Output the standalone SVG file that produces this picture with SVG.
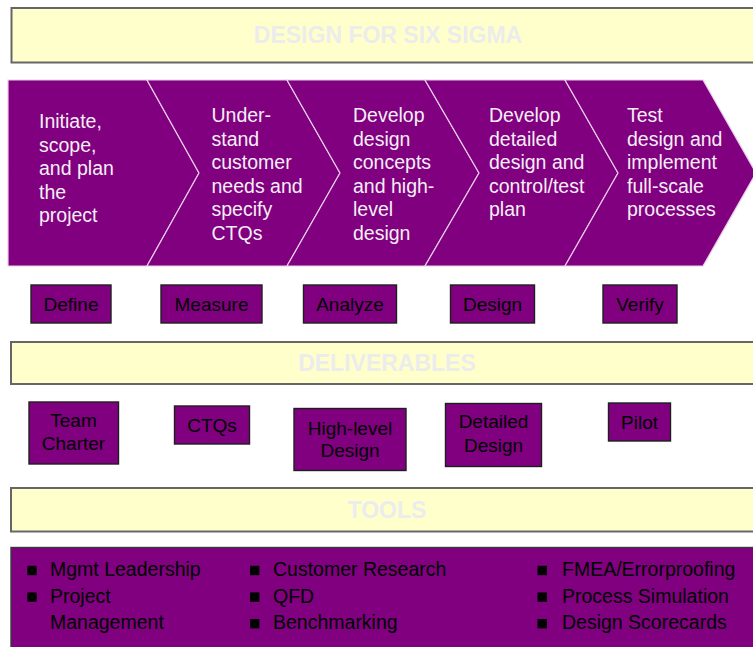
<svg xmlns="http://www.w3.org/2000/svg" width="753" height="647" viewBox="0 0 753 647">
<style>
.banner{fill:#ffffcc;stroke:#666666;stroke-width:2}
.btxt{font-family:"Liberation Sans",Arial,sans-serif;font-weight:bold;font-size:23px;fill:#ececec;text-anchor:middle}
.chev{fill:#800080;stroke:#e8cde8;stroke-width:1.2}
.ctxt{font-family:"Liberation Sans",Arial,sans-serif;font-size:19.5px;fill:#f6eef6}
.box{fill:#800080;stroke:#1e1e1e;stroke-width:1.4}
.ltxt{font-family:"Liberation Sans",Arial,sans-serif;font-size:19px;fill:#000;text-anchor:middle}
.ttxt{font-family:"Liberation Sans",Arial,sans-serif;font-size:19.5px;fill:#000}
.bul{fill:#000}
</style>
<rect width="753" height="647" fill="#ffffff"/>

<g id="banner-dfss">
<rect class="banner" x="11.5" y="8" width="750" height="54.5"/>
<text class="btxt" x="388" y="43">DESIGN FOR SIX SIGMA</text>
</g>

<g id="chevron-define">
<path class="chev" d="M8,80 L147,80 L199,173 L147,266 L8,266 Z"/>
<text class="ctxt"><tspan x="39" y="128">Initiate,</tspan><tspan x="39" y="151.5">scope,</tspan><tspan x="39" y="175">and plan</tspan><tspan x="39" y="198.5">the</tspan><tspan x="39" y="222">project</tspan></text>
</g>
<g id="chevron-measure">
<path class="chev" d="M147,80 L287,80 L340,173 L287,266 L147,266 L199,173 Z"/>
<text class="ctxt"><tspan x="211.5" y="122">Under-</tspan><tspan x="211.5" y="145.5">stand</tspan><tspan x="211.5" y="169">customer</tspan><tspan x="211.5" y="192.5">needs and</tspan><tspan x="211.5" y="216">specify</tspan><tspan x="211.5" y="239.5">CTQs</tspan></text>
</g>
<g id="chevron-analyze">
<path class="chev" d="M287,80 L425,80 L479,173 L425,266 L287,266 L340,173 Z"/>
<text class="ctxt"><tspan x="353" y="122">Develop</tspan><tspan x="353" y="145.5">design</tspan><tspan x="353" y="169">concepts</tspan><tspan x="353" y="192.5">and high-</tspan><tspan x="353" y="216">level</tspan><tspan x="353" y="239.5">design</tspan></text>
</g>
<g id="chevron-design">
<path class="chev" d="M425,80 L565,80 L618,173 L565,266 L425,266 L479,173 Z"/>
<text class="ctxt"><tspan x="489" y="122">Develop</tspan><tspan x="489" y="145.5">detailed</tspan><tspan x="489" y="169">design and</tspan><tspan x="489" y="192.5">control/test</tspan><tspan x="489" y="216">plan</tspan></text>
</g>
<g id="chevron-verify">
<path class="chev" d="M565,80 L703,80 L756,173 L703,266 L565,266 L618,173 Z"/>
<text class="ctxt"><tspan x="627" y="122">Test</tspan><tspan x="627" y="145.5">design and</tspan><tspan x="627" y="169">implement</tspan><tspan x="627" y="192.5">full-scale</tspan><tspan x="627" y="216">processes</tspan></text>
</g>

<g id="phase-define"><rect class="box" x="31" y="285" width="80" height="38"/><text class="ltxt" x="71" y="311">Define</text></g>
<g id="phase-measure"><rect class="box" x="161" y="285" width="101" height="38"/><text class="ltxt" x="211.5" y="311">Measure</text></g>
<g id="phase-analyze"><rect class="box" x="303.5" y="285" width="93" height="38"/><text class="ltxt" x="350" y="311">Analyze</text></g>
<g id="phase-design"><rect class="box" x="450.5" y="285" width="84" height="38"/><text class="ltxt" x="492.5" y="311">Design</text></g>
<g id="phase-verify"><rect class="box" x="603" y="285" width="74" height="38"/><text class="ltxt" x="640" y="311">Verify</text></g>

<g id="banner-deliverables">
<rect class="banner" x="11" y="342" width="750" height="42"/>
<text class="btxt" x="387" y="371">DELIVERABLES</text>
</g>

<g id="deliv-team-charter"><rect class="box" x="29" y="402" width="89.5" height="62"/><text class="ltxt"><tspan x="73.5" y="427">Team</tspan><tspan x="73.5" y="450">Charter</tspan></text></g>
<g id="deliv-ctqs"><rect class="box" x="174.5" y="406" width="75" height="38"/><text class="ltxt" x="212" y="431.5">CTQs</text></g>
<g id="deliv-high-level-design"><rect class="box" x="294" y="408.5" width="112" height="62"/><text class="ltxt"><tspan x="350" y="434.5">High-level</tspan><tspan x="350" y="457">Design</tspan></text></g>
<g id="deliv-detailed-design"><rect class="box" x="445.5" y="403.5" width="96" height="63"/><text class="ltxt"><tspan x="493.5" y="428">Detailed</tspan><tspan x="493.5" y="451.5">Design</tspan></text></g>
<g id="deliv-pilot"><rect class="box" x="608.5" y="403" width="62" height="38"/><text class="ltxt" x="639.5" y="428.5">Pilot</text></g>

<g id="banner-tools">
<rect class="banner" x="11" y="488" width="750" height="43.5"/>
<text class="btxt" x="387" y="517.5">TOOLS</text>
</g>

<g id="tools-list">
<rect x="11" y="547.5" width="750" height="110" fill="#800080" stroke="#3a3a3a" stroke-width="1.4"/>
<rect class="bul" x="27.3" y="565.8" width="9.4" height="9.4"/>
<rect class="bul" x="27.3" y="592.4" width="9.4" height="9.4"/>
<text class="ttxt" x="50" y="576">Mgmt Leadership</text>
<text class="ttxt" x="50" y="602.5">Project</text>
<text class="ttxt" x="50" y="629">Management</text>
<rect class="bul" x="250" y="565.8" width="9.4" height="9.4"/>
<rect class="bul" x="250" y="592.4" width="9.4" height="9.4"/>
<rect class="bul" x="250" y="619" width="9.4" height="9.4"/>
<text class="ttxt" x="273" y="576">Customer Research</text>
<text class="ttxt" x="273" y="602.5">QFD</text>
<text class="ttxt" x="273" y="629">Benchmarking</text>
<rect class="bul" x="537.5" y="565.8" width="9.4" height="9.4"/>
<rect class="bul" x="537.5" y="592.4" width="9.4" height="9.4"/>
<rect class="bul" x="537.5" y="619" width="9.4" height="9.4"/>
<text class="ttxt" x="562" y="576">FMEA/Errorproofing</text>
<text class="ttxt" x="562" y="602.5">Process Simulation</text>
<text class="ttxt" x="562" y="629">Design Scorecards</text>
</g>
</svg>
